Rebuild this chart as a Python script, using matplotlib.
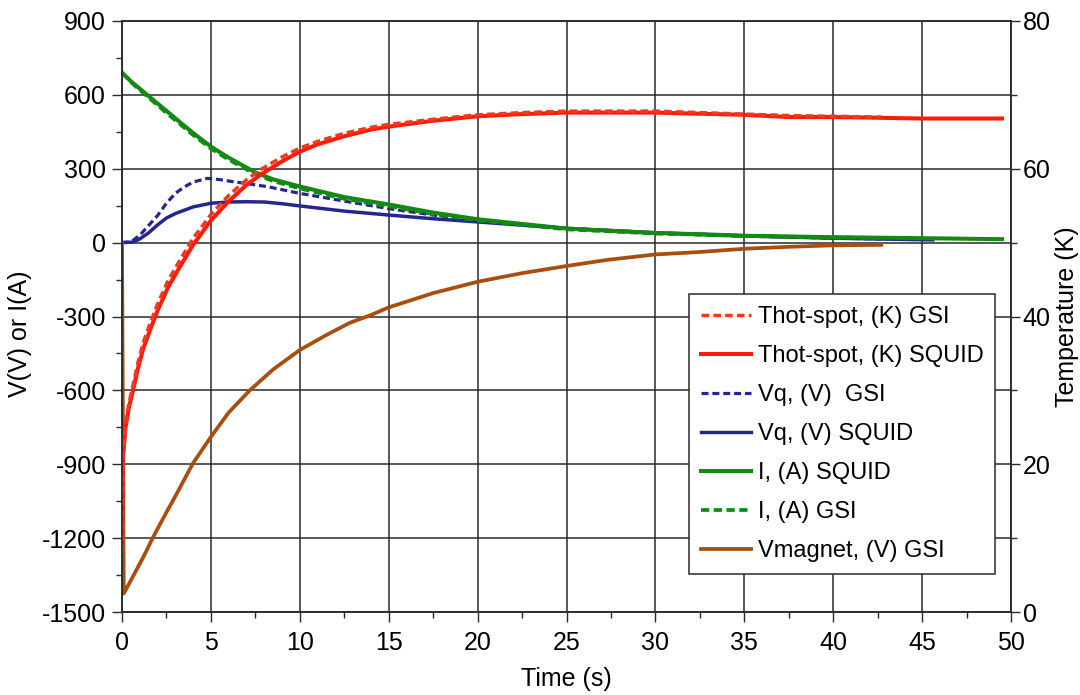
import matplotlib
matplotlib.use("Agg")
import matplotlib.pyplot as plt

plt.rcParams['font.family'] = ['Liberation Sans', 'DejaVu Sans']
plt.rcParams['axes.unicode_minus'] = False

# ---------------- data ----------------
# Hot-spot temperature (K), right axis
t_T_squid = [0, 0.02, 0.06, 0.2, 0.4, 0.62, 0.9, 1.2, 1.6, 2.0, 2.6, 3.2, 4.0, 5.0, 6.0, 7.0,
             7.8, 9.0, 10, 11, 12.5, 14, 15, 17.5, 20, 22.5, 25, 30, 35, 37.5, 40, 45, 49.5]
T_squid = [8, 14, 21, 25, 27.8, 30, 33, 35.7, 38.3, 40.8, 44, 46.5, 49.7, 53, 55.6, 57.8,
           59.2, 61, 62.3, 63.3, 64.4, 65.3, 65.7, 66.5, 67.1, 67.4, 67.6, 67.6, 67.3, 67.0, 67.0, 66.8, 66.8]
t_T_gsi = [0, 0.02, 0.06, 0.2, 0.4, 0.62, 0.9, 1.2, 1.6, 2.0, 2.6, 3.2, 4.0, 5.0, 6.0, 7.0,
           7.8, 9.0, 10, 11, 12.5, 14, 15, 17.5, 20, 22.5, 25, 30, 35, 37.5, 40, 42.7]
T_gsi = [8, 14.5, 21.5, 25.5, 28.4, 30.7, 33.8, 36.5, 39.2, 41.7, 44.9, 47.4, 50.6, 53.8, 56.4, 58.5,
         59.9, 61.6, 62.8, 63.7, 64.8, 65.6, 66.0, 66.7, 67.3, 67.6, 67.8, 67.8, 67.4, 67.2, 67.1, 67.0]

# Quench voltage Vq (V)
t_vq_squid = [0, 0.6, 1, 1.5, 2, 2.5, 3, 4, 5, 6, 7, 8, 9, 10, 12.5, 15, 17.5, 20, 25, 30, 35, 40, 45.6]
vq_squid = [0, 2, 15, 40, 72, 100, 118, 145, 160, 165, 166, 165, 158, 149, 128, 112, 97, 84, 58, 40, 27, 18, 11]
t_vq_gsi = [0, 0.5, 1, 1.5, 2, 2.5, 3, 3.5, 4, 4.8, 5.5, 6.2, 7, 8.2, 10, 12.8, 15, 17.5, 20, 25, 30, 35, 40, 42.7]
vq_gsi = [0, 3, 30, 70, 110, 160, 200, 226, 246, 261, 256, 248, 240, 227, 200, 165, 138, 112, 90, 58, 40, 28, 18, 15]

# Current I (A)
t_i_squid = [0, 0.5, 1, 2, 2.5, 3, 4, 5, 6, 7.5, 8.5, 10, 12.5, 15, 17.5, 20, 25, 30, 33, 35, 40, 45, 49.5]
i_squid = [690, 655, 625, 565, 535, 505, 445, 390, 345, 285, 257, 228, 185, 155, 122, 95, 57, 39, 33, 28, 22, 18, 14]
t_i_gsi = [0, 0.5, 1, 2, 2.5, 3, 4, 5, 6, 7.5, 8.5, 10, 12.5, 15, 17.5, 20, 25, 30, 33, 35, 40, 42.7]
i_gsi = [690, 652, 620, 558, 527, 497, 437, 382, 337, 278, 250, 220, 178, 148, 116, 90, 54, 37, 31, 27, 21, 19]

# Magnet voltage (V)
t_vm = [0, 0.1, 0.6, 1.2, 1.75, 2.5, 3, 4, 5, 6, 7.2, 8.5, 10, 11.5, 12.8, 14, 15, 17.5, 20,
        22.5, 25, 27.3, 30, 32.5, 35, 37.5, 40, 42.7]
vm = [0, -1425, -1358, -1277, -1196, -1095, -1030, -895, -789, -690, -599, -515, -436, -375, -326,
      -294, -263, -205, -159, -124, -95, -70, -48, -38, -25, -17, -11, -9]

labels = ["Thot-spot, (K) GSI", "Thot-spot, (K) SQUID", "Vq, (V)  GSI", "Vq, (V) SQUID",
          "I, (A) SQUID", "I, (A) GSI", "Vmagnet, (V) GSI"]
left_ticks = [-1500, -1200, -900, -600, -300, 0, 300, 600, 900]
right_ticks = [0, 20, 40, 60, 80]
x_ticks = [0, 5, 10, 15, 20, 25, 30, 35, 40, 45, 50]

# ---------------- figure ----------------
FS = 18
LFS = 17
fig = plt.figure(figsize=(10.8, 6.95), dpi=100)
ax = fig.add_axes([122 / 1080, (695 - 612) / 695, (1011 - 122) / 1080, (612 - 21) / 695])
ax2 = ax.twinx()

RED = '#ff1a0a'
REDD = '#f03a1e'
BLUE = '#262690'
GREEN = '#138a13'
BROWN = '#a84e10'
dash = (0, (2.2, 1.2))

h_vq_g, = ax.plot(t_vq_gsi, vq_gsi, color=BLUE, lw=2.3, ls=dash)
h_vq_s, = ax.plot(t_vq_squid, vq_squid, color=BLUE, lw=2.5)
h_i_s, = ax.plot(t_i_squid, i_squid, color=GREEN, lw=2.9)
h_i_g, = ax.plot(t_i_gsi, i_gsi, color=GREEN, lw=2.7, ls=dash)
h_vm, = ax.plot(t_vm, vm, color=BROWN, lw=2.7)

h_T_s, = ax2.plot(t_T_squid, T_squid, color=RED, lw=2.9)
h_T_g, = ax2.plot(t_T_gsi, T_gsi, color=REDD, lw=2.5, ls=dash)

ax.set_xlim(0, 50)
ax.set_ylim(-1500, 900)
ax2.set_ylim(0, 80)
ax.set_xticks(x_ticks)
ax.set_xticks([2.5 + 5 * k for k in range(10)], minor=True)
ax.set_yticks(left_ticks)
ax.set_yticks([-1350 + 300 * k for k in range(8)], minor=True)
ax2.set_yticks(right_ticks)
ax2.set_yticks([10, 30, 50, 70], minor=True)

ax.grid(True, which='major', color='#2a2a2a', lw=1.1)
ax.set_axisbelow(True)

for a in (ax, ax2):
    for s in a.spines.values():
        s.set_color('#2a2a2a')
        s.set_linewidth(1.1)
ax.tick_params(which='major', length=7.5, width=1.0, labelsize=FS, pad=4, color='#2a2a2a')
ax.tick_params(axis='x', which='major', pad=6)
ax.tick_params(which='minor', length=4, width=1.0, color='#2a2a2a')
ax2.tick_params(which='major', length=6.5, width=1.0, labelsize=FS, pad=2, color='#2a2a2a')
ax2.tick_params(which='minor', length=4, width=1.0, color='#2a2a2a')

ax.set_xlabel("Time (s)", fontsize=FS)
ax.xaxis.set_label_coords(0.5, -0.093)
ax.set_ylabel("V(V) or I(A)", fontsize=FS)
ax.yaxis.set_label_coords(-0.101, 0.47)
ax2.set_ylabel("Temperature (K)", fontsize=FS)
ax2.yaxis.set_label_coords(1.050, 0.5)

handles = [h_T_g, h_T_s, h_vq_g, h_vq_s, h_i_s, h_i_g, h_vm]
leg = ax2.legend(handles, labels, loc='upper left', bbox_to_anchor=(0.638, 0.538),
                 borderaxespad=0, fontsize=LFS, frameon=True, fancybox=False,
                 edgecolor='#2a2a2a', framealpha=1, handlelength=2.1, handletextpad=0.3,
                 labelspacing=0.72, borderpad=0.5)
leg.get_frame().set_linewidth(1.1)

fig.savefig("out.png", dpi=100)
